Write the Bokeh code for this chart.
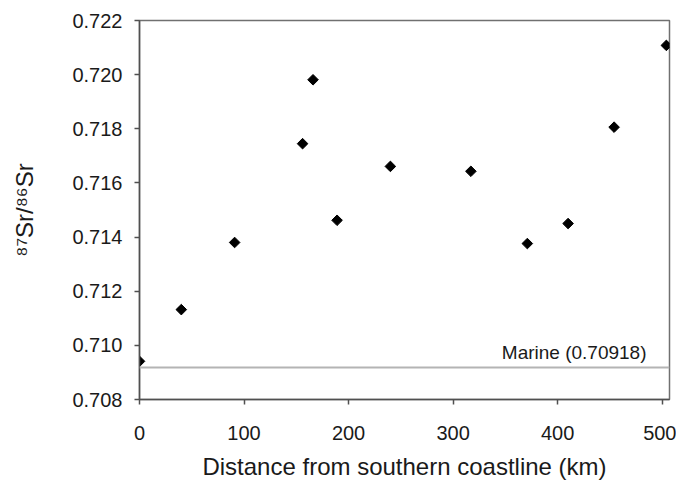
from bokeh.plotting import figure
from bokeh.models import Span, Label, FixedTicker, PrintfTickFormatter, Range1d
from bokeh.embed import file_html
from bokeh.resources import INLINE

distance_km = [0, 40, 91, 156, 166, 189, 240, 317, 371, 410, 454, 504]
sr_ratio = [0.70941, 0.71132, 0.71380, 0.71745, 0.71981, 0.71462, 0.71661,
            0.71643, 0.71376, 0.71450, 0.71806, 0.72108]
marine_value = 0.70918
marine_label = "Marine (0.70918)"
x_ticks = [0, 100, 200, 300, 400, 500]
y_ticks = [0.708, 0.710, 0.712, 0.714, 0.716, 0.718, 0.720, 0.722]

FONT = "Liberation Sans"

p = figure(width=676, height=490, output_backend="svg", toolbar_location=None,
           x_range=Range1d(0, 507), y_range=Range1d(0.708, 0.722),
           min_border_left=139, min_border_right=7, min_border_top=20, min_border_bottom=91)
p.background_fill_color = "white"
p.border_fill_color = "white"
p.xgrid.visible = False
p.ygrid.visible = False
p.outline_line_color = "#707070"
p.outline_line_width = 1.5

for ax in (p.xaxis[0], p.yaxis[0]):
    ax.axis_line_color = "#505050"
    ax.axis_line_width = 1.5
    ax.major_tick_line_color = "#505050"
    ax.major_tick_line_width = 1.5
    ax.major_tick_out = 5
    ax.major_tick_in = 0
    ax.minor_tick_line_color = None
    ax.major_label_text_font = FONT
    ax.major_label_text_font_size = "20px"
    ax.major_label_text_color = "#1a1a1a"
    ax.axis_label_text_font = FONT
    ax.axis_label_text_font_style = "normal"
    ax.axis_label_text_color = "#1a1a1a"
    ax.axis_label_text_font_size = "24px"

p.xaxis.ticker = FixedTicker(ticks=x_ticks)
p.yaxis.ticker = FixedTicker(ticks=y_ticks)
p.yaxis.formatter = PrintfTickFormatter(format="%.3f")
p.xaxis.major_label_standoff = 21
p.yaxis.major_label_standoff = 12
p.xaxis.axis_label = "Distance from southern coastline (km)"
p.xaxis.axis_label_standoff = 10
p.yaxis.axis_label = "\u2078\u2077Sr/\u2078\u2076Sr"
p.yaxis.axis_label_standoff = 31

marine = Span(location=marine_value, dimension="width", line_color="#b4b4b4", line_width=2)
p.add_layout(marine)
p.add_layout(Label(x=485, y=marine_value, text=marine_label, text_align="right",
                   text_baseline="bottom", y_offset=5, text_font=FONT,
                   text_font_size="19px", text_color="#1a1a1a"))

p.scatter(distance_km, sr_ratio, marker="square", angle=0.785398, size=7.5,
          fill_color="black", line_color="black")

open("out.html", "w").write(file_html(p, INLINE))
